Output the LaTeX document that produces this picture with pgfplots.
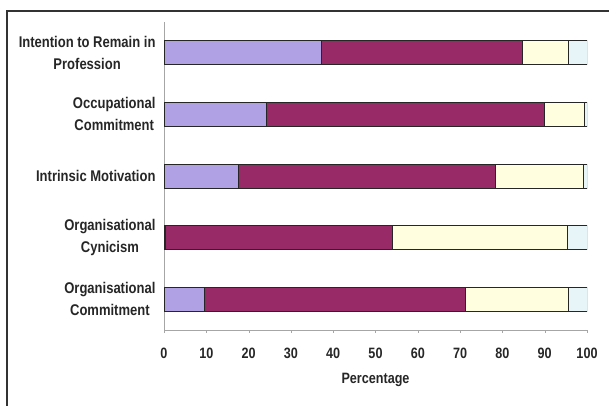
\documentclass[border=0pt]{standalone}
\usepackage{pgfplots}
\pgfplotsset{compat=1.18}
\usepackage{fontspec}
\setmainfont{Liberation Sans}[FakeStretch=0.84]
\definecolor{lav}{RGB}{176,160,228}
\definecolor{mag}{RGB}{152,42,104}
\definecolor{crm}{RGB}{255,255,224}
\definecolor{lbl}{RGB}{232,245,248}
\begin{document}
\begin{tikzpicture}
\useasboundingbox (0,0) rectangle (609pt,-406pt);
\draw[line width=1.1pt, black!80] (7pt,-406pt) -- (7pt,-11pt) -- (609pt,-11pt);
\begin{axis}[
  at={(164pt,-330pt)}, anchor=south west,
  scale only axis, width=423pt, height=308pt,
  xbar stacked, bar width=24pt,
  xmin=0, xmax=100, ymin=-0.5, ymax=4.5,
  xtick={0,10,...,100},
  ytick={0,1,2,3,4},
  yticklabels={{Organisational\\Commitment},{Organisational\\Cynicism},{Intrinsic Motivation},{Occupational\\Commitment},{Intention to Remain in\\Profession}},
  yticklabel style={align=center, font=\fontsize{15.5}{22}\selectfont\bfseries, text=black!85, xshift=-2pt},
  xticklabel style={font=\fontsize{15}{17}\selectfont\bfseries, text=black!85, yshift=-11pt},
  /pgf/number format/assume math mode=true,
  axis x line*=bottom, axis y line*=left,
  axis line style={black!35},
  x axis line style={-}, y axis line style={-},
  xtick style={black!35}, ytick style={draw=none},
  tick align=outside, major tick length=3pt,
  xlabel={Percentage}, xlabel style={font=\fontsize{15}{17}\selectfont\bfseries, text=black!85, yshift=-8pt},
  every axis plot/.append style={draw=black!85, line width=0.9pt},
]
\addplot[fill=lav] coordinates {(9.5,0) (0.4,1) (17.6,2) (24.3,3) (37.2,4)};
\addplot[fill=mag] coordinates {(61.7,0) (53.7,1) (60.8,2) (65.6,3) (47.6,4)};
\addplot[fill=crm] coordinates {(24.4,0) (41.3,1) (20.8,2) (9.6,3) (10.9,4)};
\addplot[fill=lbl] coordinates {(4.4,0) (4.6,1) (0.8,2) (0.5,3) (4.3,4)};
\end{axis}
\end{tikzpicture}
\end{document}
